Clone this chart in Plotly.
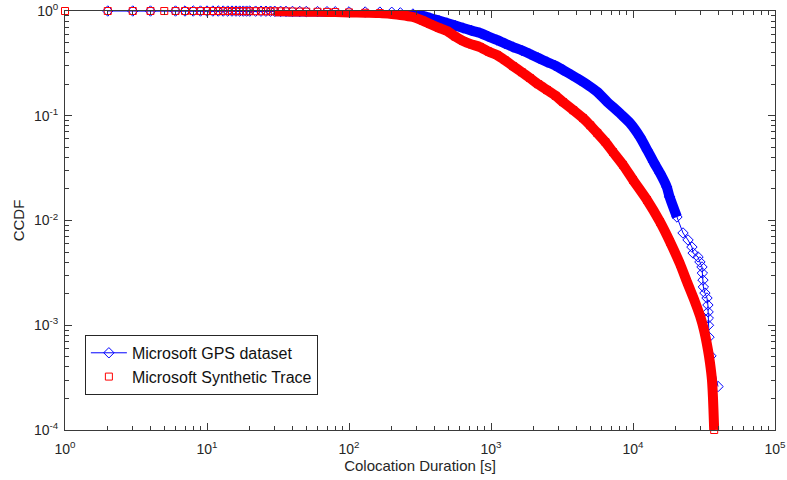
import plotly.graph_objects as go

# ---- Data (CCDF of colocation duration) ----
gps_x = [2, 3, 4, 6, 7, 8, 9, 10, 11, 12, 13, 14, 15, 16, 17, 18, 19, 20, 22, 24, 26, 28, 30,
         33, 36, 40, 45, 50, 60, 70, 80, 100, 130, 165, 200, 230, 282, 330, 372, 430, 490, 560,
         636, 730, 837, 960, 1100, 1250, 1430, 1650, 1880, 2150, 2480, 2850, 3220, 3700, 4240,
         4900, 5600, 6600, 7230, 8300, 9530, 11200, 12600, 14000, 15500, 17300, 18100, 20400,
         22500, 24400, 26000, 26500, 28700, 29600, 30600, 30800, 31100, 31300, 32100, 33200,
         33700, 33800, 33900, 34000, 34300, 35400, 39700]
gps_y = [0.9998, 0.9997, 0.9996, 0.9995, 0.9994, 0.9993, 0.9992, 0.999, 0.9988, 0.9986, 0.9984,
         0.9982, 0.998, 0.9978, 0.9976, 0.9974, 0.9972, 0.997, 0.9965, 0.996, 0.9955, 0.995, 0.994,
         0.993, 0.992, 0.991, 0.99, 0.989, 0.987, 0.985, 0.983, 0.98, 0.978, 0.976, 0.972, 0.96,
         0.936, 0.9, 0.857, 0.81, 0.768, 0.725, 0.688, 0.65, 0.617, 0.57, 0.529, 0.49, 0.453, 0.42,
         0.389, 0.357, 0.326, 0.3, 0.273, 0.245, 0.219, 0.193, 0.169, 0.135, 0.121, 0.102, 0.085,
         0.0627, 0.047, 0.036, 0.0283, 0.0209, 0.0168, 0.0108,
         0.0076, 0.00652, 0.00558, 0.00489, 0.00449, 0.00402, 0.0036, 0.00315, 0.0027, 0.00232,
         0.00203, 0.00182, 0.00156, 0.00134, 0.00117, 0.001, 0.00077, 0.00051, 0.00026]

syn_x = [1, 2, 3, 4, 5, 6, 7, 8, 9, 10, 11, 12, 13, 14, 15, 16, 17, 18, 19, 20, 22, 24, 26, 28,
         30, 33, 36, 40, 45, 50, 60, 70, 80, 100, 130, 165, 200, 230, 282, 330, 372, 430, 490, 560,
         636, 730, 837, 960, 1100, 1250, 1430, 1650, 1880, 2150, 2480, 2850, 3220, 3800, 4440,
         5000, 5600, 6400, 7230, 8500, 10000, 12550, 15500, 18230, 21430, 24000, 27330, 29640,
         31620, 33740, 34850, 35990, 36560, 37150, 37300]
syn_y = [0.9999, 0.9998, 0.9997, 0.9996, 0.9995, 0.9994, 0.9993, 0.9992, 0.999, 0.9988, 0.9986,
         0.9984, 0.9982, 0.998, 0.9978, 0.9975, 0.9972, 0.997, 0.9967, 0.9964, 0.996, 0.9955, 0.995,
         0.9945, 0.994, 0.993, 0.992, 0.99, 0.988, 0.986, 0.983, 0.98, 0.977, 0.97, 0.962, 0.955,
         0.935, 0.916, 0.876, 0.81, 0.751, 0.69, 0.644, 0.57, 0.517, 0.48, 0.453, 0.41, 0.38, 0.34,
         0.298, 0.26, 0.229, 0.2, 0.176, 0.155, 0.135, 0.113, 0.095, 0.081, 0.0685, 0.056, 0.045,
         0.034, 0.0244, 0.0157, 0.00968, 0.00624, 0.00385, 0.00259, 0.00167, 0.00123,
         0.0009, 0.00058, 0.000437, 0.0003, 0.000207, 0.000117, 0.0001]

x_tick_vals = [1, 10, 100, 1000, 10000, 100000]
x_tick_text = ["10<sup>0</sup>", "10<sup>1</sup>", "10<sup>2</sup>", "10<sup>3</sup>",
               "10<sup>4</sup>", "10<sup>5</sup>"]
y_tick_vals = [0.0001, 0.001, 0.01, 0.1, 1]
y_tick_text = ["10<sup>-4</sup>", "10<sup>-3</sup>", "10<sup>-2</sup>", "10<sup>-1</sup>",
               "10<sup>0</sup>"]
x_minor_vals = [m * 10 ** k for k in range(0, 5) for m in range(2, 10)]
y_minor_vals = [m * 10.0 ** k for k in range(-4, 0) for m in range(2, 10)]

BLUE = "#0000ff"
RED = "#ff0000"
AX = "#3a3a3a"
FONT = "Liberation Sans, Arial, sans-serif"

def band(xs, ys, lo, hi):
    pts = [(a, b) for a, b in zip(xs, ys) if lo <= a <= hi]
    return [p[0] for p in pts], [p[1] for p in pts]

fig = go.Figure()

bx, by = band(gps_x, gps_y, 30, 20400)
fig.add_trace(go.Scatter(x=bx, y=by, mode="lines", line=dict(color=BLUE, width=10, shape="spline", smoothing=0.6),
                         showlegend=False, hoverinfo="skip"))
fig.add_trace(go.Scatter(x=gps_x, y=gps_y, mode="lines+markers", name="Microsoft GPS dataset",
                         line=dict(color=BLUE, width=1),
                         marker=dict(symbol="diamond-open", size=8, color=BLUE, line=dict(width=1)),
                         cliponaxis=False))

rx, ry = band(syn_x, syn_y, 30, 40000)
fig.add_trace(go.Scatter(x=rx, y=ry, mode="lines", line=dict(color=RED, width=10, shape="spline", smoothing=0.6),
                         showlegend=False, hoverinfo="skip"))
fig.add_trace(go.Scatter(x=syn_x, y=syn_y, mode="markers", name="Microsoft Synthetic Trace",
                         marker=dict(symbol="square-open", size=7, color=RED, line=dict(width=1)),
                         cliponaxis=False))

axis_common = dict(
    type="log", showgrid=False, zeroline=False, automargin=False,
    showline=True, linecolor=AX, linewidth=1, mirror="allticks",
    ticks="inside", ticklen=7, tickcolor=AX, tickwidth=1,
    tickmode="array",
    tickfont=dict(family=FONT, size=14, color="#262626"),
)

fig.update_layout(
    width=787, height=480,
    margin=dict(l=65, r=12, t=11, b=50, autoexpand=False),
    paper_bgcolor="white", plot_bgcolor="white",
    font=dict(family=FONT, size=15, color="#262626"),
    xaxis=dict(axis_common, range=[0, 5], tickvals=x_tick_vals, ticktext=x_tick_text,
               ticklabelstandoff=6,
               minor=dict(tickmode="array", tickvals=x_minor_vals, ticks="inside", ticklen=4,
                          tickcolor=AX, tickwidth=1, showgrid=False),
               title=dict(text="Colocation Duration [s]", standoff=3,
                          font=dict(size=15, color="#262626"))),
    yaxis=dict(axis_common, range=[-4, 0], tickvals=y_tick_vals, ticktext=y_tick_text,
               ticklabelstandoff=3,
               minor=dict(tickmode="array", tickvals=y_minor_vals, ticks="inside", ticklen=4,
                          tickcolor=AX, tickwidth=1, showgrid=False),
               title=dict(text="CCDF", standoff=5, font=dict(size=15, color="#262626"))),
    legend=dict(x=0.028, y=0.227, xanchor="left", yanchor="top",
                bgcolor="white", bordercolor="#262626", borderwidth=1,
                font=dict(size=16, color="#111111"), itemwidth=36,
                tracegroupgap=0),
    showlegend=True,
)

fig.write_html("out.html")
